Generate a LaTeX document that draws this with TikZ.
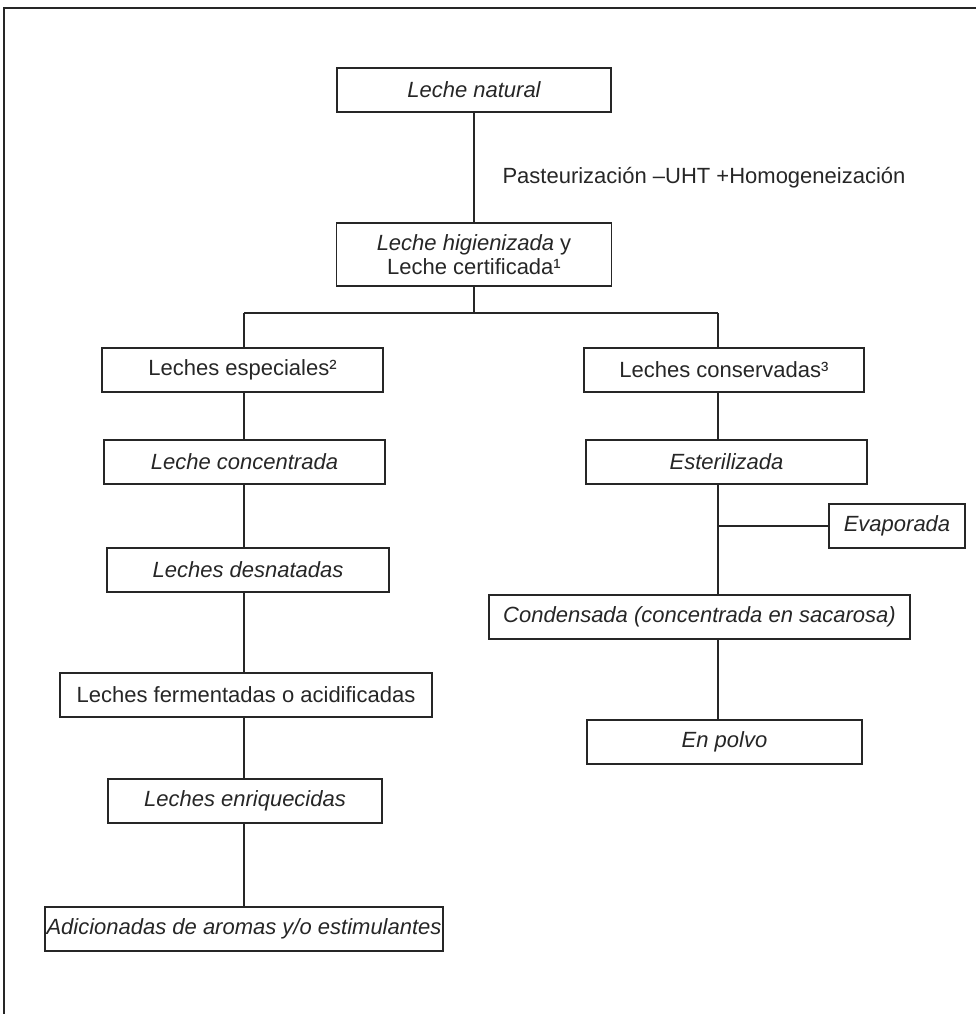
\documentclass[tikz,border=0pt]{standalone}
\usepackage{fontspec}
\setsansfont{Liberation Sans}
\usetikzlibrary{positioning}

\begin{document}
\begin{tikzpicture}[x=1pt, y=-1pt, color=black!85,
    font=\sffamily\fontsize{22}{24}\selectfont,
    box/.style={draw, line width=1.3pt, minimum height=44pt, inner sep=0pt, align=center},
    link/.style={draw, line width=1.2pt}]

  \useasboundingbox (0,0) rectangle (976,1014);

  % Page frame (only left and top edges show).
  \draw[line width=1.2pt] (4,1014) -- (4,8) -- (976,8);

  % Top of the tree.
  \node[box, minimum width=274pt] (natural) at (474,90) {\itshape Leche natural};
  \node[anchor=west] (proceso) at (499,178) {Pasteurización –UHT +Homogeneización};
  \node[box, minimum width=275pt, minimum height=63pt] (higienizada) at (474,254.5)
    {\textit{Leche higienizada} y\\Leche certificada¹};

  % Branch bus.
  \coordinate (busL) at (244,313);
  \coordinate (busR) at (718,313);

  % Left column.
  \node[box, minimum width=281pt] (especiales) at (242.5,370) {Leches especiales²};
  \node[box, minimum width=281pt] (concentrada) at (244.5,462) {\itshape Leche concentrada};
  \node[box, minimum width=282pt] (desnatadas) at (248,570) {\itshape Leches desnatadas};
  \node[box, minimum width=372pt] (fermentadas) at (246,695) {Leches fermentadas o acidificadas};
  \node[box, minimum width=274pt] (enriquecidas) at (245,801) {\itshape Leches enriquecidas};
  \node[box, minimum width=398pt] (adicionadas) at (244,929)
    {\itshape Adicionadas de aromas y/o estimulantes};

  % Right column.
  \node[box, minimum width=280pt] (conservadas) at (724,370) {Leches conservadas³};
  \node[box, minimum width=281pt] (esterilizada) at (726.5,462) {\itshape Esterilizada};
  \node[box, minimum width=136pt] (evaporada) at (897,526) {\itshape Evaporada};
  \node[box, minimum width=421pt] (condensada) at (699.5,617)
    {\itshape Condensada (concentrada en sacarosa)};
  \node[box, minimum width=275pt] (polvo) at (724.5,742) {\itshape En polvo};
  \coordinate (evapJ) at (busR |- evaporada.west);

  % Connectors.
  \draw[link] (natural.south) -- (higienizada.north);
  \draw[link] (higienizada.south) -- (higienizada.south |- busL);
  \draw[link] (busL) -- (busR);
  \draw[link] (busL) -- (busL |- especiales.north);
  \draw[link] (busR) -- (busR |- conservadas.north);

  \foreach \a/\b in {especiales/concentrada, concentrada/desnatadas,
      desnatadas/fermentadas, fermentadas/enriquecidas, enriquecidas/adicionadas}
    \draw[link] (busL |- \a.south) -- (busL |- \b.north);

  \foreach \a/\b in {conservadas/esterilizada, esterilizada/condensada, condensada/polvo}
    \draw[link] (busR |- \a.south) -- (busR |- \b.north);
  \draw[link] (evapJ) -- (evaporada.west);

\end{tikzpicture}
\end{document}
